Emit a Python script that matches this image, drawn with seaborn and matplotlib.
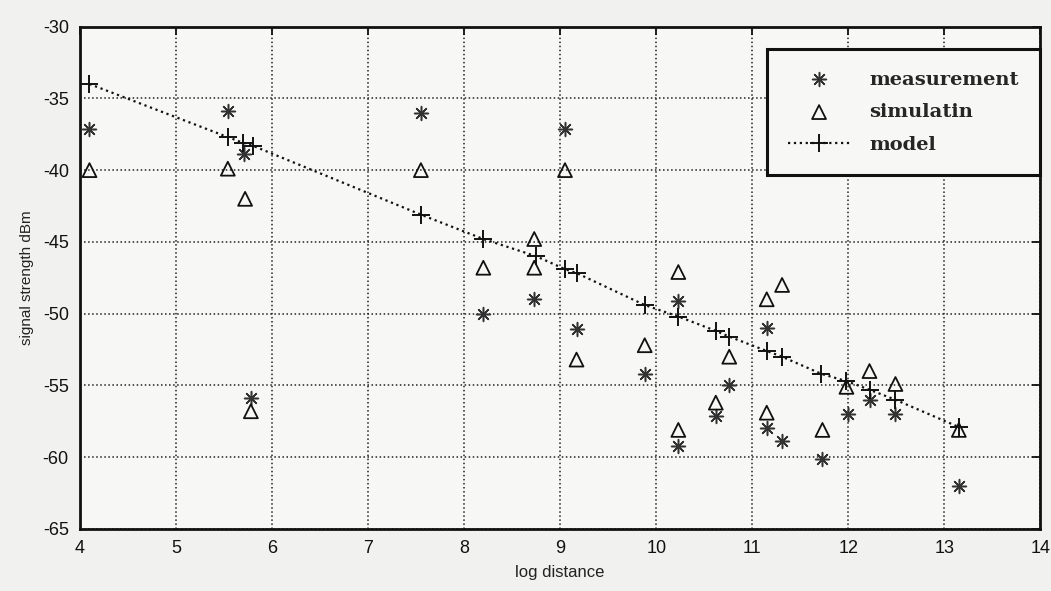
import matplotlib
matplotlib.use("Agg")
import matplotlib.pyplot as plt
import seaborn as sns

# measurement points (asterisks)
meas_x = [4.1, 5.54, 5.71, 5.78, 7.55, 8.2, 8.73, 9.05, 9.17, 9.88, 10.23,
          10.23, 10.62, 10.76, 11.15, 11.15, 11.31, 11.73, 12.0, 12.22, 12.49, 13.15]
meas_y = [-37.1, -35.9, -38.9, -55.9, -36.0, -50.0, -49.0, -37.1, -51.1, -54.2, -49.1,
          -59.2, -57.1, -55.0, -51.0, -58.0, -58.9, -60.1, -57.0, -56.0, -57.0, -62.0]

# simulation points (triangles)
sim_x = [4.1, 5.54, 5.72, 5.78, 7.55, 8.2, 8.73, 8.73, 9.05, 9.17, 9.88, 10.23,
         10.23, 10.62, 10.76, 11.15, 11.31, 11.15, 11.73, 11.98, 12.22, 12.49, 13.15]
sim_y = [-40.0, -39.9, -42.0, -56.8, -40.0, -46.8, -44.8, -46.8, -40.0, -53.2, -52.2, -47.1,
         -58.1, -56.2, -53.0, -49.0, -48.0, -56.9, -58.1, -55.1, -54.0, -54.9, -58.1]

# path loss model
model_x = [4.1, 5.54, 5.70, 5.80, 7.55, 8.2, 8.75, 9.05, 9.18, 9.88, 10.23, 10.62,
           10.76, 11.15, 11.31, 11.72, 11.98, 12.22, 12.49, 13.15]
model_y = [-34.0, -37.7, -38.1, -38.3, -43.1, -44.8, -46.0, -46.9, -47.2, -49.4, -50.2, -51.2,
           -51.6, -52.6, -53.0, -54.2, -54.7, -55.3, -56.0, -57.9]

x_ticks = [4, 5, 6, 7, 8, 9, 10, 11, 12, 13, 14]
y_ticks = [-65, -60, -55, -50, -45, -40, -35, -30]

sns.set_theme(style="white")
plt.rcParams['font.family'] = ['Liberation Sans', 'DejaVu Sans']
plt.rcParams['axes.unicode_minus'] = False

fig = plt.figure(figsize=(10.51, 5.91), dpi=100, facecolor='#f1f1ef')
ax = fig.add_axes([0.076, 0.105, 0.914, 0.85])
ax.set_facecolor('#f7f7f5')

sns.scatterplot(x=meas_x, y=meas_y, marker=(8, 2, 0), s=100, color='#333333',
                linewidth=1.1, label='measurement', ax=ax, zorder=3)
sns.scatterplot(x=sim_x, y=sim_y, marker='^', s=100, facecolor='none', edgecolor='#111111',
                linewidth=1.3, label='simulatin', ax=ax, zorder=3)
sns.lineplot(x=model_x, y=model_y, marker='+', linestyle=':', color='#111111', linewidth=1.6,
             markersize=13, markeredgewidth=1.4, markeredgecolor='#111111',
             label='model', ax=ax, zorder=4, estimator=None)

ax.set_xlim(4, 14)
ax.set_ylim(-65, -30)
ax.set_xticks(x_ticks)
ax.set_yticks(y_ticks)
ax.grid(True, linestyle=':', color='#222222', linewidth=1.1)
ax.tick_params(direction='in', length=6, width=1.3, top=True, right=True,
               labelsize=13, colors='#111111', pad=8)
for sp in ax.spines.values():
    sp.set_linewidth(2)
    sp.set_color('#111111')

ax.set_xlabel('log distance', fontsize=12, color='#222222', labelpad=6)
ax.set_ylabel('signal strength dBm', fontsize=11, color='#222222', labelpad=6)

leg = ax.legend(loc='upper right', frameon=True, fancybox=False, borderpad=1.1,
                labelspacing=0.75, handlelength=3.2, handletextpad=1.0,
                prop={'family': 'DejaVu Serif', 'weight': 'bold', 'size': 14},
                bbox_to_anchor=(1.0, 0.955), borderaxespad=0.0)
leg.get_frame().set_edgecolor('#111111')
leg.get_frame().set_linewidth(2.2)
leg.get_frame().set_facecolor('#f7f7f5')
leg.get_frame().set_alpha(1)

fig.savefig('out.png', dpi=100, facecolor=fig.get_facecolor())
